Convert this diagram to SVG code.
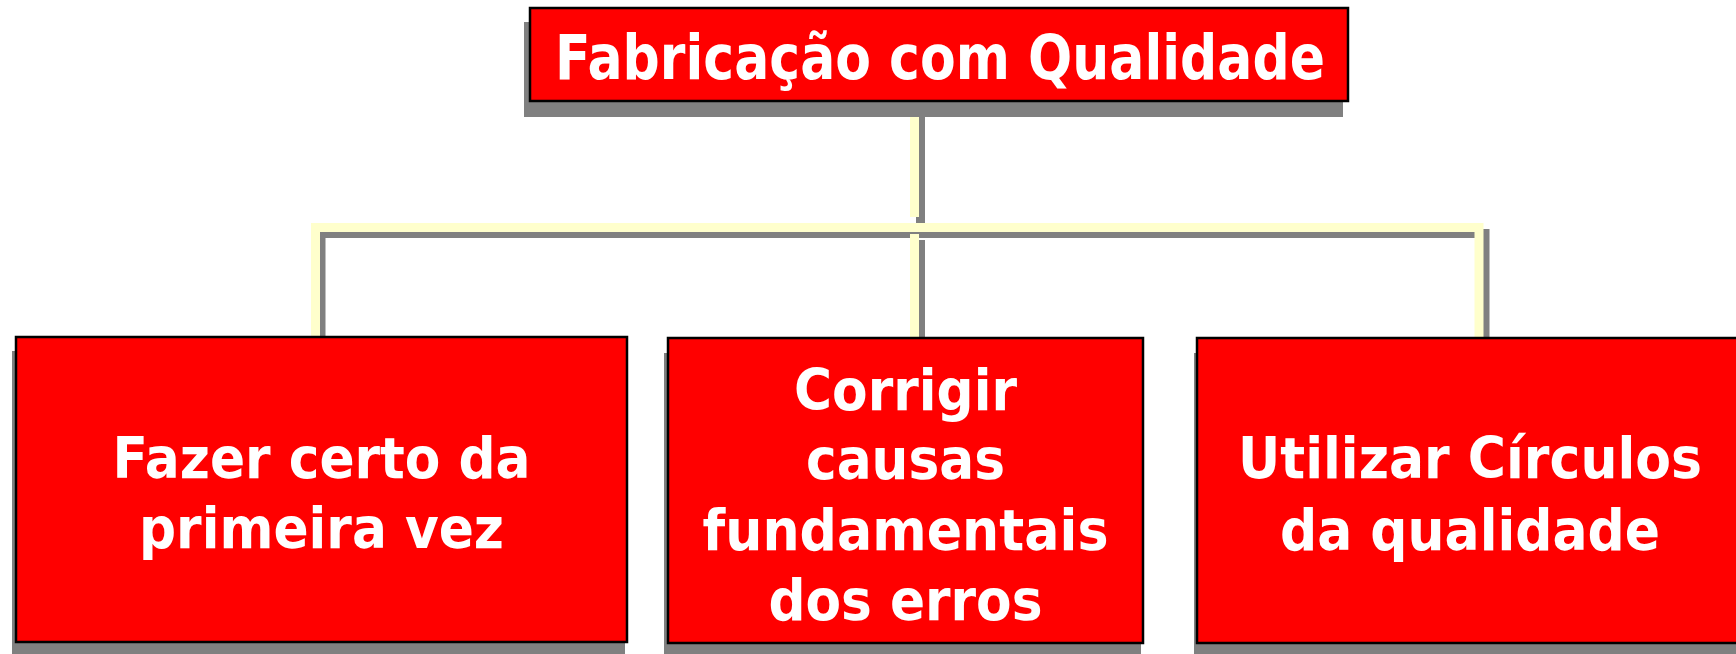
<svg xmlns="http://www.w3.org/2000/svg" width="1736" height="654" viewBox="0 0 1736 654">
<style>
.shadow{fill:#808080}
.box{fill:#FF0000;stroke:#000;stroke-width:2.5}
.t{font-family:"DejaVu Sans","Liberation Sans",sans-serif;font-weight:bold;fill:#fff;text-anchor:middle}
.yl{stroke:#FFFFCC;stroke-width:9;fill:none}
.gl{stroke:#808080;stroke-width:9;fill:none}
</style>
<rect width="1736" height="654" fill="#fff"/>
<g id="connectors">
<path class="gl" d="M920.5,107 V223 M317,233.5 H1489 M920.5,240 V343 M321,229 V342 M1485,229 V343"/>
<path class="yl" d="M914.5,101 V217 M311,227.5 H1483 M914.5,234 V337 M315.5,223 V336 M1479,223 V337"/>
</g>
<g id="top">
<rect class="shadow" x="524" y="22" width="819" height="95"/>
<rect class="box" x="530" y="8" width="818" height="93"/>
<text class="t" x="940" y="79" font-size="62" textLength="770" lengthAdjust="spacingAndGlyphs">Fabricação com Qualidade</text>
</g>
<g id="n1">
<rect class="shadow" x="12" y="351" width="613" height="307"/>
<rect class="box" x="16" y="337" width="611" height="305"/>
<text class="t" font-size="57" x="321.5" y="478" textLength="418" lengthAdjust="spacingAndGlyphs">Fazer certo da</text>
<text class="t" font-size="57" x="321.5" y="548" textLength="365" lengthAdjust="spacingAndGlyphs">primeira vez</text>
</g>
<g id="n2">
<rect class="shadow" x="664" y="353" width="477" height="307"/>
<rect class="box" x="668" y="338" width="475" height="305"/>
<text class="t" font-size="57" x="905.5" y="410" textLength="223" lengthAdjust="spacingAndGlyphs">Corrigir</text>
<text class="t" font-size="57" x="905.5" y="479" textLength="199" lengthAdjust="spacingAndGlyphs">causas</text>
<text class="t" font-size="57" x="905.5" y="550" textLength="406" lengthAdjust="spacingAndGlyphs">fundamentais</text>
<text class="t" font-size="57" x="905.5" y="620" textLength="274" lengthAdjust="spacingAndGlyphs">dos erros</text>
</g>
<g id="n3">
<rect class="shadow" x="1194" y="353" width="560" height="307"/>
<rect class="box" x="1197" y="338" width="560" height="305"/>
<text class="t" font-size="57" x="1470" y="478" textLength="464" lengthAdjust="spacingAndGlyphs">Utilizar Círculos</text>
<text class="t" font-size="57" x="1470" y="550" textLength="380" lengthAdjust="spacingAndGlyphs">da qualidade</text>
</g>
</svg>
